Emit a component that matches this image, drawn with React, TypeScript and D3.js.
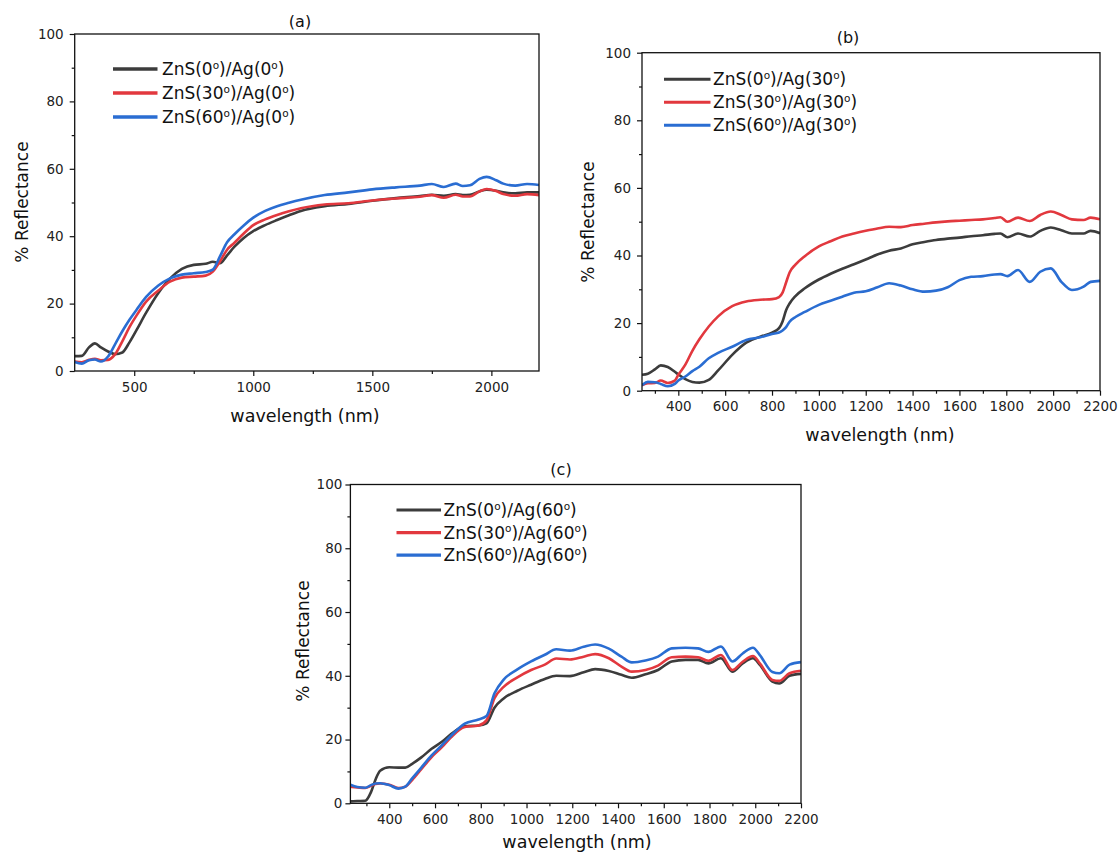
import React, { useRef, useEffect } from "react";
import * as d3 from "d3";

// ---- data ----
const wavelengthA = [250, 280, 310, 335, 360, 390, 420, 450, 480, 510, 550, 600, 650, 700, 750, 800, 830, 860, 890, 920, 960, 1000, 1050, 1100, 1150, 1200, 1300, 1400, 1500, 1600, 1700, 1750, 1800, 1850, 1880, 1910, 1950, 1980, 2020, 2050, 2100, 2150, 2200];
const a_zns0 = [4.4, 4.5, 7.0, 8.2, 7.0, 5.8, 5.0, 5.5, 8.5, 12.2, 17.3, 23, 27.4, 30.3, 31.5, 31.8, 32.4, 32.0, 34.3, 36.8, 39.5, 41.5, 43.3, 44.8, 46.2, 47.5, 48.9, 49.6, 50.5, 51.3, 51.9, 52.3, 52, 52.5, 52.2, 52.3, 53.3, 53.8, 53.5, 53, 52.7, 53, 53];
const a_zns30 = [2.8, 2.6, 3.3, 3.6, 3.2, 3.3, 5.0, 8.8, 13, 16.5, 20.6, 23.8, 26.5, 27.7, 28, 28.3, 29.5, 32.5, 36, 38, 40.8, 43.3, 45, 46.3, 47.4, 48.3, 49.4, 49.8, 50.6, 51.2, 51.7, 52.2, 51.4, 52.3, 51.8, 51.8, 53.3, 54, 53.4, 52.5, 52, 52.5, 52.2];
const a_zns60 = [2.7, 2.2, 3.2, 3.4, 2.8, 4.3, 8.0, 11.8, 15.2, 18.2, 22, 25.3, 27.5, 28.6, 29, 29.4, 30.1, 34, 38.2, 40.5, 43.2, 45.5, 47.5, 48.9, 49.9, 50.8, 52.2, 53, 53.9, 54.5, 55, 55.5, 54.6, 55.6, 54.9, 55.1, 57, 57.6, 56.6, 55.6, 55, 55.5, 55.2];

const wavelengthB = [245, 270, 300, 325, 355, 385, 400, 430, 460, 490, 530, 570, 630, 690, 750, 800, 830, 845, 860, 875, 900, 940, 1000, 1050, 1100, 1150, 1200, 1250, 1300, 1350, 1400, 1450, 1500, 1550, 1600, 1650, 1700, 1750, 1775, 1805, 1850, 1900, 1945, 1990, 2035, 2080, 2130, 2160, 2200];
const b_zns0 = [4.7, 5.0, 6.3, 7.5, 7.0, 5.6, 4.8, 3.4, 2.6, 2.4, 3.2, 6.0, 10.6, 14.2, 16.0, 17.2, 18.5, 20.5, 23.8, 25.8, 28.0, 30.3, 32.9, 34.6, 36.1, 37.4, 38.8, 40.3, 41.4, 42.1, 43.3, 44.0, 44.6, 45.0, 45.3, 45.7, 46.0, 46.4, 46.5, 45.4, 46.5, 45.6, 47.3, 48.3, 47.5, 46.5, 46.5, 47.3, 46.6];
const b_zns30 = [1.6, 2.2, 2.3, 3.0, 2.3, 3.0, 4.7, 7.7, 11.8, 15.2, 19, 22, 25, 26.4, 26.9, 27.1, 27.7, 29.0, 32.0, 35.0, 37.3, 39.8, 42.7, 44.2, 45.6, 46.5, 47.3, 48.0, 48.5, 48.4, 49.0, 49.4, 49.8, 50.1, 50.3, 50.5, 50.7, 51.1, 51.3, 50.0, 51.2, 50.2, 52.0, 53.0, 52.0, 50.7, 50.5, 51.2, 50.7];
const b_zns60 = [1.6, 2.6, 2.5, 2.0, 1.3, 2.0, 3.0, 4.2, 5.8, 7.1, 9.6, 11.2, 13.0, 15.0, 15.8, 16.8, 17.2, 17.8, 18.8, 20.4, 21.8, 23.3, 25.4, 26.6, 27.8, 29.0, 29.4, 30.6, 31.8, 31.1, 30.0, 29.3, 29.6, 30.6, 32.7, 33.7, 33.9, 34.4, 34.5, 33.9, 35.7, 32.2, 35.2, 36.2, 32.2, 29.8, 30.8, 32.2, 32.5];

const wavelengthC = [230, 260, 295, 320, 340, 360, 400, 440, 470, 500, 540, 585, 630, 670, 730, 790, 825, 860, 900, 960, 1020, 1080, 1130, 1190, 1250, 1300, 1360, 1415, 1460, 1520, 1575, 1635, 1695, 1750, 1795, 1850, 1900, 1945, 1990, 2020, 2075, 2105, 2150, 2200];
const c_zns0 = [0.6, 0.7, 0.8, 3.5, 7.5, 10.2, 11.3, 11.2, 11.2, 12.4, 14.4, 17.1, 19.3, 21.7, 24.2, 24.4, 25.1, 30.0, 32.9, 35.3, 37.2, 39.0, 40.0, 39.9, 41.1, 42.1, 41.5, 40.3, 39.4, 40.5, 41.8, 44.5, 45.0, 45.0, 43.9, 45.5, 41.3, 43.9, 45.5, 43.4, 38.2, 37.6, 40.0, 40.6];
const c_zns30 = [5.2, 5.0, 4.8, 5.5, 6.1, 6.2, 5.8, 4.8, 5.2, 7.3, 10.7, 14.5, 17.6, 20.7, 23.9, 24.4, 26.0, 33.0, 36.5, 39.5, 41.8, 43.5, 45.4, 45.1, 46.0, 46.8, 45.5, 42.9, 41.3, 41.8, 43.2, 45.8, 46.0, 45.8, 44.7, 46.5, 41.8, 44.4, 46.2, 43.9, 38.7, 38.4, 40.8, 41.6];
const c_zns60 = [5.8, 5.1, 4.9, 5.7, 6.2, 6.3, 5.7, 4.6, 5.2, 7.8, 11.2, 15.0, 18.2, 21.2, 25.0, 26.3, 27.4, 34.5, 38.8, 42.0, 44.5, 46.6, 48.3, 47.9, 49.1, 49.8, 48.5, 46.0, 44.2, 44.8, 46.0, 48.6, 48.8, 48.6, 47.5, 49.2, 44.5, 47.0, 48.8, 46.5, 41.2, 40.8, 43.5, 44.3];

const znsAngles = ["0", "30", "60"];
const agAngles = ["0", "30", "60"];
const panelTitles = ["(a)", "(b)", "(c)"];

const yTicks = [0, 20, 40, 60, 80, 100];
const yMinor = [10, 30, 50, 70, 90];
const xTicksA = [500, 1000, 1500, 2000];
const xMinorA = [750, 1250, 1750];
const xTicksBC = [400, 600, 800, 1000, 1200, 1400, 1600, 1800, 2000, 2200];
const xMinorBC = [300, 500, 700, 900, 1100, 1300, 1500, 1700, 1900, 2100];

const FONT = "DejaVu Sans";
const colors = ["#3c3c3c", "#e2383e", "#2a6dd2"];

const panels = [
  { wl: wavelengthA, series: [a_zns0, a_zns30, a_zns60], x0: 250, left: 74.7, right: 539, top: 34, bottom: 371,
    ticks: xTicksA, minor: xMinorA, pad: 6, titleX: 300, titleY: 27, xlX: 305, xlY: 422, ylX: 22, ylY: 202,
    legX1: 113, legX2: 157.5, legT: 162, legY: 69, legDy: 24, legW: 3.6 },
  { wl: wavelengthB, series: [b_zns0, b_zns30, b_zns60], x0: 245, left: 642, right: 1100, top: 52.7, bottom: 390.7,
    ticks: xTicksBC, minor: xMinorBC, pad: 6, titleX: 848, titleY: 43, xlX: 880, xlY: 441, ylX: 588, ylY: 222,
    legX1: 664, legX2: 710.5, legT: 713, legY: 79.3, legDy: 23, legW: 3 },
  { wl: wavelengthC, series: [c_zns0, c_zns30, c_zns60], x0: 230, left: 350.4, right: 801, top: 484.5, bottom: 803.3,
    ticks: xTicksBC, minor: xMinorBC, pad: 3, titleX: 561, titleY: 475, xlX: 577, xlY: 848, ylX: 303, ylY: 641,
    legX1: 396.5, legX2: 441, legT: 443.5, legY: 510, legDy: 22.6, legW: 3.2 },
];

const App = () => {
  const svgRef = useRef<SVGSVGElement>(null);

  useEffect(() => {
    const svg = d3.select(svgRef.current);
    svg.selectAll("*").remove();

    panels.forEach((p, pi) => {
      const x = d3.scaleLinear().domain([p.x0, 2200]).range([p.left, p.right]);
      const y = d3.scaleLinear().domain([0, 100]).range([p.bottom, p.top]);
      const g = svg.append("g");

      const clipId = `clip-${pi}`;
      g.append("clipPath").attr("id", clipId)
        .append("rect").attr("x", p.left).attr("y", p.top)
        .attr("width", p.right - p.left).attr("height", p.bottom - p.top);

      const line = d3.line<number>()
        .x((d, i) => x(p.wl[i]))
        .y((d) => y(d))
        .curve(d3.curveMonotoneX);

      g.append("g").attr("clip-path", `url(#${clipId})`)
        .selectAll("path")
        .data(p.series)
        .join("path")
        .attr("d", (d) => line(d))
        .attr("fill", "none")
        .attr("stroke", (d, i) => colors[i])
        .attr("stroke-width", 2.6)
        .attr("stroke-linejoin", "round");

      // axes
      const styleAxis = (ax: any) => {
        ax.select(".domain").remove();
        ax.selectAll("line").attr("stroke", "#111").attr("stroke-width", 1.2);
        ax.selectAll("text").attr("font-size", 13.5).attr("font-family", FONT).attr("fill", "#222");
      };
      g.append("g").attr("transform", `translate(0,${p.bottom})`)
        .call(d3.axisBottom(x).tickValues(p.ticks).tickSize(5).tickPadding(6).tickFormat(d3.format("d")))
        .call(styleAxis);
      g.append("g").attr("transform", `translate(0,${p.bottom})`)
        .call(d3.axisBottom(x).tickValues(p.minor).tickSize(3).tickFormat(() => ""))
        .call(styleAxis);
      g.append("g").attr("transform", `translate(${p.left},0)`)
        .call(d3.axisLeft(y).tickValues(yTicks).tickSize(5).tickPadding(p.pad).tickFormat(d3.format("d")))
        .call(styleAxis);
      g.append("g").attr("transform", `translate(${p.left},0)`)
        .call(d3.axisLeft(y).tickValues(yMinor).tickSize(3).tickFormat(() => ""))
        .call(styleAxis);

      g.append("rect")
        .attr("x", p.left).attr("y", p.top)
        .attr("width", p.right - p.left).attr("height", p.bottom - p.top)
        .attr("fill", "none").attr("stroke", "#111").attr("stroke-width", 1.3);

      // titles & labels
      g.append("text").attr("x", p.titleX).attr("y", p.titleY)
        .attr("text-anchor", "middle").attr("font-family", FONT).attr("font-size", 16).attr("fill", "#111")
        .text(panelTitles[pi]);
      g.append("text").attr("x", p.xlX).attr("y", p.xlY)
        .attr("text-anchor", "middle").attr("font-family", FONT).attr("font-size", 17.5).attr("fill", "#111")
        .text("wavelength (nm)");
      g.append("text")
        .attr("transform", `translate(${p.ylX},${p.ylY}) rotate(-90)`)
        .attr("dy", "0.35em")
        .attr("text-anchor", "middle").attr("font-family", FONT).attr("font-size", 17).attr("fill", "#111")
        .text("% Reflectance");

      // legend
      znsAngles.forEach((za, i) => {
        const ly = p.legY + i * p.legDy;
        g.append("line")
          .attr("x1", p.legX1).attr("x2", p.legX2).attr("y1", ly).attr("y2", ly)
          .attr("stroke", colors[i]).attr("stroke-width", p.legW);
        const t = g.append("text").attr("x", p.legT).attr("y", ly + 6)
          .attr("font-family", FONT).attr("font-size", 17).attr("fill", "#111");
        t.append("tspan").text(`ZnS(${za}`);
        t.append("tspan").attr("font-size", 10.5).attr("dy", -6.5).text("o");
        t.append("tspan").attr("dy", 6.5).text(`)/Ag(${agAngles[pi]}`);
        t.append("tspan").attr("font-size", 10.5).attr("dy", -6.5).text("o");
        t.append("tspan").attr("dy", 6.5).text(")");
      });
    });
  }, []);

  return (
    <svg
      ref={svgRef}
      width={1118}
      height={854}
      style={{ position: "absolute", left: 0, top: 0, background: "#fff" }}
    ></svg>
  );
};

export default App;
